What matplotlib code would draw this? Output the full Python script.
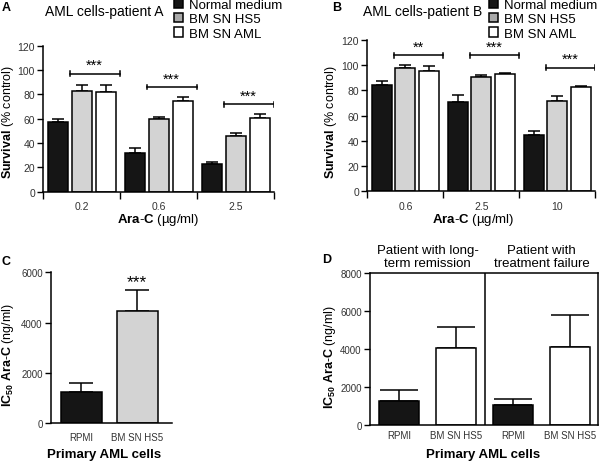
import matplotlib
matplotlib.use("Agg")
import numpy as np
import matplotlib.pyplot as plt
from matplotlib.patches import Patch
from matplotlib.transforms import blended_transform_factory

plt.rcParams['font.family'] = ['Liberation Sans', 'DejaVu Sans']
plt.rcParams['mathtext.fontset'] = 'custom'
plt.rcParams['mathtext.rm'] = 'Liberation Sans'
plt.rcParams['mathtext.bf'] = 'Liberation Sans:bold'
plt.rcParams['mathtext.it'] = 'Liberation Sans:italic'

# ---- data ----
treatments = ["Normal medium", "BM SN HS5", "BM SN AML"]

doses_a = ["0.2", "0.6", "2.5"]
normal_a = [57, 31.5, 23]
normal_a_err = [3, 4.5, 1]
hs5_a = [83, 59.5, 46]
hs5_a_err = [4.5, 2, 2]
aml_a = [82, 74.5, 60.5]
aml_a_err = [6, 3.5, 3.5]
sig_a = ["***", "***", "***"]
sig_a_y = [97, 86, 72]

doses_b = ["0.6", "2.5", "10"]
normal_b = [84.5, 71, 45]
normal_b_err = [3, 5, 2.7]
hs5_b = [98, 90.5, 71.5]
hs5_b_err = [2, 2, 3.7]
aml_b = [95.5, 93, 82.5]
aml_b_err = [4, 1, 1]
sig_b = ["**", "***", "***"]
sig_b_y = [108, 108, 98]

c_groups = ["RPMI", "BM SN HS5"]
c_ic50 = [1256, 4465]
c_err = [350, 820]

d_groups = ["RPMI", "BM SN HS5", "RPMI", "BM SN HS5"]
d_ic50 = [1266, 4047, 1055, 4083]
d_err = [580, 1090, 285, 1705]
d_patients = ["Patient with long-\nterm remission", "Patient with\ntreatment failure"]

BLACK = '#151515'
GRAY = '#d3d3d3'
WHITE = '#ffffff'
TICK_COL = '#333333'

W, H = 600, 464


def px(x, y):
    return x / W, 1 - y / H


def style_ticks(ax, size):
    ax.tick_params(axis='both', which='major', direction='out', length=4,
                   width=1, labelsize=size, labelcolor=TICK_COL, pad=2)
    for sp in ax.spines.values():
        sp.set_linewidth(1.1)


def survival_panel(ax, doses, series, errs, sig, sig_y):
    x = np.arange(len(doses))
    offsets = [-0.31, 0.0, 0.31]
    colors = [BLACK, GRAY, WHITE]
    for off, vals, err, col in zip(offsets, series, errs, colors):
        pos = x + off
        ax.bar(pos, vals, width=0.26, color=col, edgecolor='black', lw=1.1, zorder=2)
        ax.errorbar(pos, vals, yerr=[np.zeros(len(vals)), err], fmt='none',
                    ecolor='black', elinewidth=1.1, capsize=4.5, capthick=1.1, zorder=1)
    for i, (s, yv) in enumerate(zip(sig, sig_y)):
        x0, x1 = i - 0.155, i + 0.49
        ax.plot([x0, x1], [yv, yv], color='black', lw=1.1)
        ax.plot([x0, x0], [yv - 2, yv + 2], color='black', lw=1.1)
        ax.plot([x1, x1], [yv - 2, yv + 2], color='black', lw=1.1)
        ax.text((x0 + x1) / 2, yv + 1.2, s, ha='center', va='bottom', fontsize=10.5)
    ax.set_xlim(-0.5, 2.5)
    ax.set_ylim(0, 120)
    ax.set_yticks(np.arange(0, 121, 20))
    ax.set_xticks([-0.5, 0.5, 1.5, 2.5])
    ax.set_xticklabels([])
    ax.set_xticks(x, minor=True)
    ax.set_xticklabels(doses, minor=True)
    ax.spines['top'].set_visible(False)
    ax.spines['right'].set_visible(False)
    style_ticks(ax, 7.5)
    ax.tick_params(axis='x', which='major', length=5)
    ax.tick_params(axis='x', which='minor', length=0, labelsize=7.5,
                   labelcolor=TICK_COL, pad=7)


fig = plt.figure(figsize=(6, 4.64), dpi=100)

ax_a = fig.add_axes([0.0722, 0.5847, 0.385, 0.3147])
ax_b = fig.add_axes([0.6122, 0.5856, 0.38, 0.326])
ax_c = fig.add_axes([0.085, 0.0856, 0.2017, 0.3254])
ax_d = fig.add_axes([0.6167, 0.0825, 0.3795, 0.327])

survival_panel(ax_a, doses_a, [normal_a, hs5_a, aml_a],
               [normal_a_err, hs5_a_err, aml_a_err], sig_a, sig_a_y)
survival_panel(ax_b, doses_b, [normal_b, hs5_b, aml_b],
               [normal_b_err, hs5_b_err, aml_b_err], sig_b, sig_b_y)

# legends
handles = [Patch(facecolor=BLACK, edgecolor='black', lw=1.1),
           Patch(facecolor='#a9a9a9', edgecolor='black', lw=1.1),
           Patch(facecolor=WHITE, edgecolor='black', lw=1.1)]
for ax, xl in [(ax_a, 174), (ax_b, 489)]:
    ax.legend(handles, treatments, loc='upper left', bbox_to_anchor=px(xl, 0),
              bbox_transform=fig.transFigure, frameon=False, fontsize=9.5,
              handlelength=0.7, handleheight=0.7, handletextpad=0.4,
              labelspacing=0.15, borderpad=0, borderaxespad=0)

# panel C
xc = np.arange(len(c_groups))
ax_c.bar(xc, c_ic50, width=0.73, color=[BLACK, GRAY], edgecolor='black', lw=1.1, zorder=2)
ax_c.errorbar(xc, c_ic50, yerr=[np.zeros(len(c_ic50)), c_err], fmt='none',
              ecolor='black', elinewidth=1.1, capsize=8.5, capthick=1.1, zorder=1)
ax_c.text(xc[1], c_ic50[1] + c_err[1] + 40, "***", ha='center', va='bottom', fontsize=12.5)
ax_c.set_xlim(-0.54, 1.62)
ax_c.set_ylim(0, 6000)
ax_c.set_yticks(np.arange(0, 6001, 2000))
ax_c.set_xticks(xc)
ax_c.set_xticklabels(c_groups)
ax_c.spines['top'].set_visible(False)
ax_c.spines['right'].set_visible(False)
style_ticks(ax_c, 7)
ax_c.tick_params(axis='x', length=0, pad=6)

# panel D
xd = np.arange(len(d_groups))
ax_d.bar(xd, d_ic50, width=0.7, color=[BLACK, WHITE, BLACK, WHITE],
         edgecolor='black', lw=1.1, zorder=2)
ax_d.errorbar(xd, d_ic50, yerr=[np.zeros(len(d_ic50)), d_err], fmt='none',
              ecolor='black', elinewidth=1.1, capsize=14, capthick=1.1, zorder=1)
ax_d.axvline(1.5, color='black', lw=1.1)
ax_d.set_xlim(-0.51, 3.48)
ax_d.set_ylim(0, 8000)
ax_d.set_yticks(np.arange(0, 8001, 2000))
ax_d.set_xticks(xd)
ax_d.set_xticklabels(d_groups)
style_ticks(ax_d, 7)
ax_d.tick_params(axis='x', length=0, pad=4)
tr = blended_transform_factory(ax_d.transData, ax_d.transAxes)
for k, lab in enumerate(d_patients):
    ax_d.text(2 * k + 0.5, 1.11, lab, transform=tr, ha='center', va='center',
              fontsize=9.5, linespacing=1.1)

# titles, letters and axis labels
fig.text(*px(45, 12), "AML cells-patient A", ha='left', va='center', fontsize=10)
fig.text(*px(363, 12), "AML cells-patient B", ha='left', va='center', fontsize=10)
for lab, (lx, ly) in [("A", (2, 8)), ("B", (332, 8)), ("C", (1, 262)), ("D", (322, 260))]:
    fig.text(*px(lx, ly), lab, ha='left', va='center', fontsize=9, fontweight='bold')

surv_label = r"$\mathbf{Survival}$ (% control)"
ic50_label = r"$\mathbf{IC_{50}}$ $\mathbf{Ara}$-$\mathbf{C}$ (ng/ml)"
fig.text(*px(8, 122), surv_label, rotation=90, ha='center', va='center', fontsize=9)
fig.text(*px(331, 122), surv_label, rotation=90, ha='center', va='center', fontsize=9)
fig.text(*px(8, 355), ic50_label, rotation=90, ha='center', va='center', fontsize=9)
fig.text(*px(330, 357), ic50_label, rotation=90, ha='center', va='center', fontsize=9)

dose_label = r"$\mathbf{Ara}$-$\mathbf{C}$ (µg/ml)"
fig.text(*px(158, 220), dose_label, ha='center', va='center', fontsize=9.5)
fig.text(*px(473, 220), dose_label, ha='center', va='center', fontsize=9.5)
fig.text(*px(104, 455), "Primary AML cells", ha='center', va='center', fontsize=9.5, fontweight='bold')
fig.text(*px(483, 455), "Primary AML cells", ha='center', va='center', fontsize=9.5, fontweight='bold')

fig.savefig("out.png", dpi=100)
